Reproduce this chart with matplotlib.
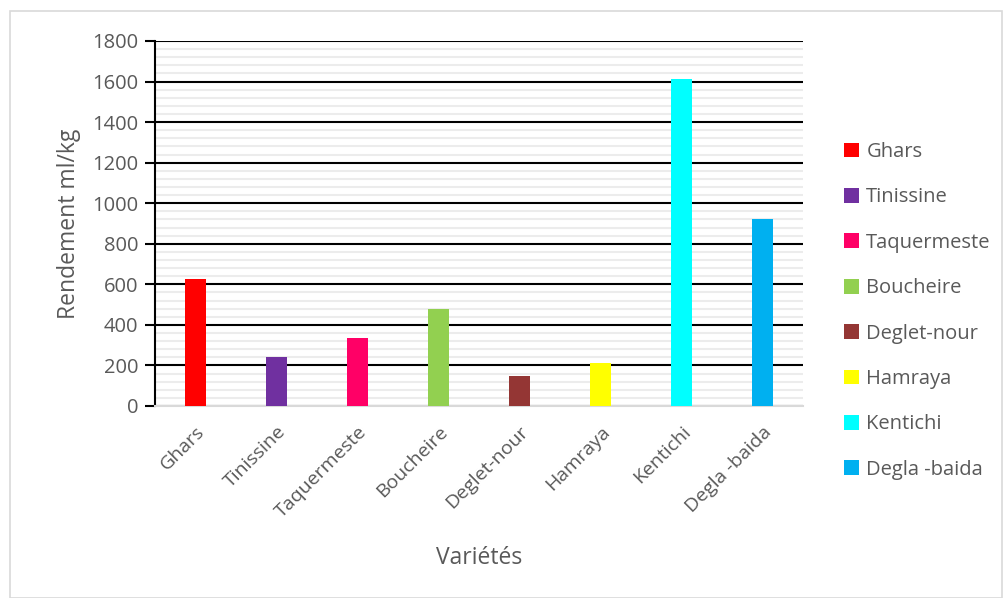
import matplotlib.pyplot as plt
import numpy as np
from matplotlib.patches import Patch, Rectangle

plt.rcParams['font.family'] = ['Open Sans', 'DejaVu Sans']

varietes = ['Ghars', 'Tinissine', 'Taquermeste', 'Boucheire', 'Deglet-nour',
            'Hamraya', 'Kentichi', 'Degla -baida']
rendement = [626, 242, 335, 478, 148, 212, 1612, 922]
couleurs = ['#ff0000', '#7030a0', '#ff0066', '#92d050', '#943634',
            '#ffff00', '#00ffff', '#00b0f0']

grey = '#595959'

fig = plt.figure(figsize=(10.07, 5.98), dpi=100)
ax = fig.add_axes([0.1539, 0.3211, 0.6435, 0.6104])

# outer chart border
fig.patches.append(Rectangle((10 / 1007, 0), 992 / 1007, 587 / 598,
                             transform=fig.transFigure, fill=False,
                             edgecolor='#d9d9d9', lw=1.2))

x = np.arange(len(varietes))
ax.bar(x, rendement, width=0.26, color=couleurs, zorder=3)

ax.set_xlim(-0.5, len(varietes) - 0.5)
ax.set_ylim(0, 1800)
ax.set_yticks(np.arange(0, 1801, 200))
ax.set_yticks(np.arange(0, 1801, 40), minor=True)
ax.grid(which='major', axis='y', color='black', lw=1.5, zorder=1)
ax.grid(which='minor', axis='y', color='#ececec', lw=1.5, zorder=0)
ax.set_axisbelow(True)

ax.set_xticks(x)
ax.set_xticklabels(varietes, rotation=45, ha='right', rotation_mode='anchor',
                   fontsize=14, color=grey)
ax.tick_params(axis='x', length=0, pad=12)
ax.tick_params(axis='y', which='major', length=7, width=1.5, color='black',
               labelsize=14.5, labelcolor=grey, direction='out', pad=5)
ax.tick_params(axis='y', which='minor', length=0)

for s in ['top', 'right']:
    ax.spines[s].set_visible(False)
ax.spines['left'].set_color('black')
ax.spines['left'].set_linewidth(1.5)
ax.spines['bottom'].set_color('#d9d9d9')
ax.spines['bottom'].set_linewidth(1.5)

ax.set_ylabel('Rendement ml/kg', fontsize=16.5, color=grey, labelpad=8)
ax.set_xlabel('Variétés', fontsize=16.5, color=grey, labelpad=18)

handles = [Patch(facecolor=c, label=v) for v, c in zip(varietes, couleurs)]
fig.legend(handles=handles, loc='upper left', bbox_to_anchor=(826 / 1007, 1 - 124 / 598),
           frameon=False, fontsize=14.5, labelcolor=grey, handlelength=0.75,
           handleheight=0.75, handletextpad=0.35, labelspacing=1.26)

fig.savefig('out.png', dpi=100)
